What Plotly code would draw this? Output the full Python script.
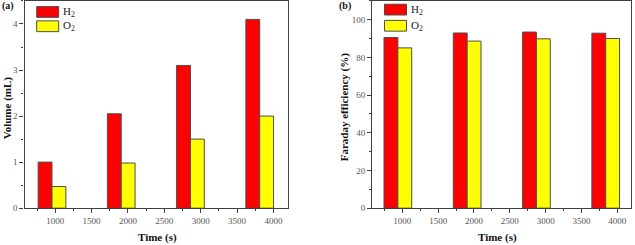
import plotly.graph_objects as go

# ---- data ----
time_s = [1000, 2000, 3000, 4000]
volume_h2 = [1.0, 2.05, 3.1, 4.1]
volume_o2 = [0.47, 0.98, 1.5, 2.0]
fe_h2 = [90.6, 93.0, 93.5, 92.9]
fe_o2 = [85.1, 88.7, 89.9, 90.1]
tick_labels = [1000, 1500, 2000, 2500, 3000, 3500, 4000]
series_names = ["H<sub>2</sub>", "O<sub>2</sub>"]

RED = "#FF0000"
YEL = "#FFFF00"
EDGE = "#4d4d4d"
AX = "#404040"
FONT = "Liberation Serif"
W, H = 635, 245

def px_x(p):
    return p / W

def px_y(p):
    return 1 - p / H

fig = go.Figure()

def add_bars(xa, ya, h2, o2):
    fig.add_trace(go.Bar(x=time_s, y=h2, width=200, offset=-200, xaxis=xa, yaxis=ya,
                         marker=dict(color=RED, line=dict(color=EDGE, width=1)),
                         name="H2", showlegend=False))
    fig.add_trace(go.Bar(x=time_s, y=o2, width=200, offset=0, xaxis=xa, yaxis=ya,
                         marker=dict(color=YEL, line=dict(color=EDGE, width=1)),
                         name="O2", showlegend=False))

add_bars("x", "y", volume_h2, volume_o2)
add_bars("x2", "y2", fe_h2, fe_o2)
# empty traces to register tick axes
fig.add_trace(go.Scatter(x=[], y=[], xaxis="x3", yaxis="y", showlegend=False))
fig.add_trace(go.Scatter(x=[], y=[], xaxis="x4", yaxis="y2", showlegend=False))

dom_a = [px_x(24.5), px_x(288.3)]
dom_b = [px_x(372.3), px_x(631)]
ydom = [px_y(212.5), px_y(1)]

tickfont = dict(family=FONT, size=9, color="#555555")

hidden_x = dict(showline=False, showticklabels=False, ticks="", showgrid=False, zeroline=False)
tick_x = dict(showline=True, linecolor=AX, linewidth=1.3, mirror=True,
              ticks="outside", ticklen=4, tickcolor=AX, tickwidth=1,
              tickvals=tick_labels, ticktext=[str(t) for t in tick_labels],
              tickfont=tickfont, showgrid=False, zeroline=False,
              minor=dict(ticks="outside", ticklen=2, tickcolor=AX, dtick=250, tick0=0))
y_common = dict(showline=True, linecolor=AX, linewidth=1.3, mirror=True,
                ticks="outside", ticklen=4, tickcolor=AX, tickwidth=1,
                tickfont=tickfont, showgrid=False, zeroline=False, domain=ydom)

fig.update_layout(
    width=W, height=H, margin=dict(l=0, r=0, t=0, b=0),
    paper_bgcolor="white", plot_bgcolor="white", barmode="overlay",
    xaxis=dict(domain=dom_a, range=[603, 4413], anchor="y", **hidden_x),
    xaxis3=dict(domain=dom_a, range=[578, 4205], anchor="y", overlaying="x", **tick_x),
    yaxis=dict(range=[0, 4.5], anchor="x", dtick=1,
               minor=dict(ticks="outside", ticklen=2, tickcolor=AX, dtick=0.5), **y_common),
    xaxis2=dict(domain=dom_b, range=[631, 4365], anchor="y2", **hidden_x),
    xaxis4=dict(domain=dom_b, range=[581, 4191], anchor="y2", overlaying="x2", **tick_x),
    yaxis2=dict(range=[0, 110], anchor="x2", dtick=20,
                minor=dict(ticks="outside", ticklen=2, tickcolor=AX, dtick=10), **y_common),
)

ann = []
shapes = []

def legend(x0, ys):
    for (y0, color, name) in zip(ys, [RED, YEL], series_names):
        shapes.append(dict(type="rect", xref="paper", yref="paper",
                           x0=px_x(x0), x1=px_x(x0 + 22), y0=px_y(y0 + 11), y1=px_y(y0),
                           fillcolor=color, line=dict(color=EDGE, width=1)))
        ann.append(dict(xref="paper", yref="paper", x=px_x(x0 + 24), y=px_y(y0 + 5.5),
                        xanchor="left", yanchor="middle", showarrow=False, text=name,
                        font=dict(family=FONT, size=11, color="#222222")))

legend(36.7, [6.7, 21.3])
legend(384.5, [4.3, 20.8])

def text(x, y, s, size=11, angle=0, xanchor="center"):
    ann.append(dict(xref="paper", yref="paper", x=px_x(x), y=px_y(y), text=s,
                    showarrow=False, textangle=angle, xanchor=xanchor, yanchor="middle",
                    font=dict(family=FONT, size=size, color="#111111")))

text(157.5, 242, "<b>Time (s)</b>")
text(497, 242, "<b>Time (s)</b>")
text(7.5, 110, "<b>Volume (mL)</b>", angle=-90)
text(344.5, 110, "<b>Faraday efficiency (%)</b>", angle=-90)
text(0, 6, "<b>(a)</b>", size=10, xanchor="left")
text(337, 6.5, "<b>(b)</b>", size=10, xanchor="left")

fig.update_layout(annotations=ann, shapes=shapes)
fig.write_html("out.html", config={"displayModeBar": False},
               post_script="document.body.style.margin='0';document.body.style.padding='0';"
                           "document.body.style.overflow='hidden';")
